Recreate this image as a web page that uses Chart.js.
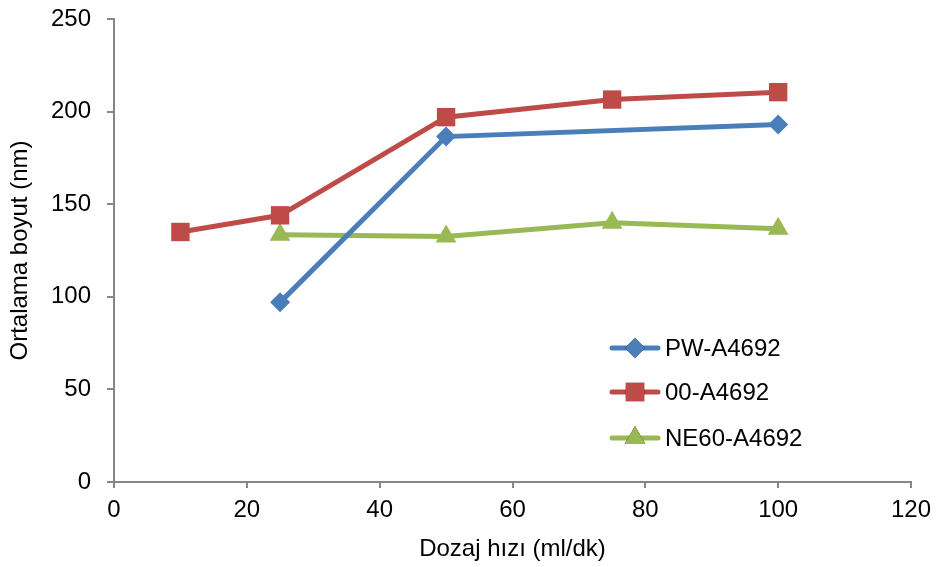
<!DOCTYPE html>
<html>
<head>
<meta charset="utf-8">
<script src="https://cdn.jsdelivr.net/npm/chart.js@4"></script>
<style>
  html, body { margin: 0; padding: 0; background: #fff; }
  #wrap { width: 937px; height: 567px; }
</style>
</head>
<body>
<div id="wrap"><canvas id="chart" width="937" height="567"></canvas></div>
<script>
// values
const seriesNames = ['PW-A4692', '00-A4692', 'NE60-A4692'];
const pwX = [25, 50, 100];
const pwY = [97, 186.5, 193];
const ooX = [10, 25, 50, 75, 100];
const ooY = [135, 144, 197, 206.5, 210.5];
const neX = [25, 50, 75, 100];
const neY = [133.5, 132.5, 140, 136.8];
const xTicks = [0, 20, 40, 60, 80, 100, 120];
const yTicks = [0, 50, 100, 150, 200, 250];

function pts(xs, ys) {
    return xs.map((x, i) => ({ x: x, y: ys[i] }));
}

const FONT = '"Liberation Sans", Arial, sans-serif';
const AXIS = '#868686';
const FS = 24;

// legend drawn inside the plot, lines with a marker in the middle
const sideLegend = {
    id: 'sideLegend',
    afterDraw(chart) {
        const ctx = chart.ctx;
        const a = chart.chartArea;
        const x0 = a.left + 498;
        const rows = [a.top + 329, a.top + 373, a.top + 419];
        chart.data.datasets.forEach((ds, i) => {
            const y = rows[i];
            ctx.save();
            ctx.strokeStyle = ds.borderColor;
            ctx.lineWidth = ds.borderWidth;
            ctx.lineCap = 'round';
            ctx.beginPath();
            ctx.moveTo(x0, y);
            ctx.lineTo(x0 + 46, y);
            ctx.stroke();
            Chart.helpers.drawPoint(ctx, {
                pointStyle: ds.pointStyle,
                radius: ds.pointRadius,
                borderWidth: 0
            }, x0 + 23, y);
            ctx.fillStyle = ds.pointBackgroundColor;
            ctx.fill();
            ctx.fillStyle = '#000';
            ctx.font = FS + 'px ' + FONT;
            ctx.textBaseline = 'middle';
            ctx.fillText(ds.label, x0 + 53, y + 1);
            ctx.restore();
        });
    }
};

const chartArea = document.getElementById('chart');
var chart = new Chart(chartArea, {
    type: 'line',
    data: {
        datasets: [{
            label: seriesNames[0],
            data: pts(pwX, pwY),
            borderColor: '#4A7EBB',
            backgroundColor: '#4A7EBB',
            pointBackgroundColor: '#4A7EBB',
            pointBorderColor: '#4A7EBB',
            borderWidth: 5,
            pointStyle: 'rectRot',
            pointRadius: 10,
            pointBorderWidth: 0
        }, {
            label: seriesNames[1],
            data: pts(ooX, ooY),
            borderColor: '#BE4B48',
            backgroundColor: '#BE4B48',
            pointBackgroundColor: '#BE4B48',
            pointBorderColor: '#BE4B48',
            borderWidth: 5,
            pointStyle: 'rect',
            pointRadius: 13,
            pointBorderWidth: 0
        }, {
            label: seriesNames[2],
            data: pts(neX, neY),
            borderColor: '#98B954',
            backgroundColor: '#98B954',
            pointBackgroundColor: '#98B954',
            pointBorderColor: '#98B954',
            borderWidth: 5,
            pointStyle: 'triangle',
            pointRadius: 12,
            pointBorderWidth: 0
        }]
    },
    options: {
        responsive: false,
        animation: false,
        layout: { padding: { top: 19, right: 26, left: 0, bottom: 0 } },
        plugins: {
            legend: { display: false },
            tooltip: { enabled: false }
        },
        scales: {
            x: {
                type: 'linear',
                min: 0,
                max: 120,
                afterBuildTicks: s => { s.ticks = xTicks.map(v => ({ value: v })); },
                afterFit: s => { s.height = 85; s.paddingLeft = 0; s.paddingRight = 0; },
                border: { color: AXIS, width: 2 },
                grid: { drawOnChartArea: false, drawTicks: true, tickLength: 6, color: AXIS, lineWidth: 2 },
                ticks: { color: '#000', font: { family: FONT, size: FS }, padding: 8, maxRotation: 0 },
                title: { display: true, text: 'Dozaj hızı (ml/dk)', color: '#000', font: { family: FONT, size: FS }, padding: { top: 4, bottom: 3 } }
            },
            y: {
                min: 0,
                max: 250,
                afterBuildTicks: s => { s.ticks = yTicks.map(v => ({ value: v })); },
                afterFit: s => { s.width = 114; s.paddingTop = 0; s.paddingBottom = 0; },
                border: { color: AXIS, width: 2 },
                grid: { drawOnChartArea: false, drawTicks: true, tickLength: 7, color: AXIS, lineWidth: 2 },
                ticks: { color: '#000', font: { family: FONT, size: FS }, padding: 16 },
                title: { display: true, text: 'Ortalama boyut (nm)', color: '#000', font: { family: FONT, size: FS }, padding: { top: 6, bottom: 0 } }
            }
        }
    },
    plugins: [sideLegend]
});
</script>
</body>
</html>
